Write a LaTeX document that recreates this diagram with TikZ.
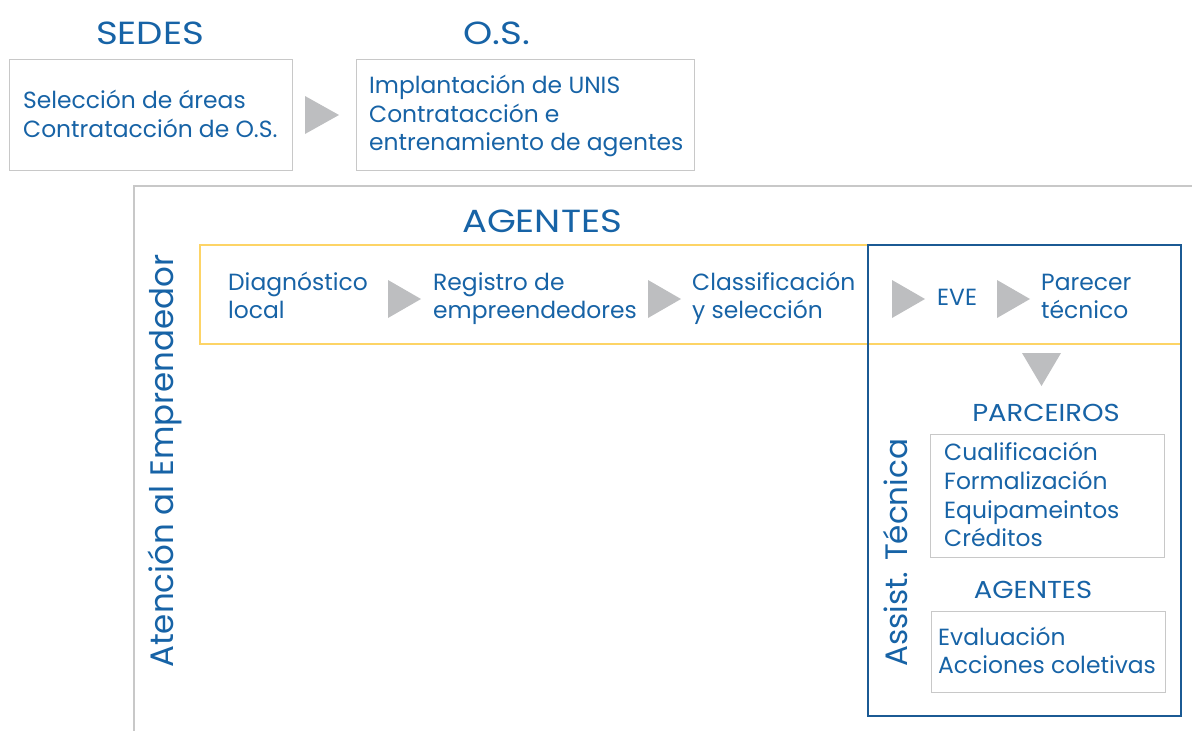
\documentclass[tikz,border=0pt]{standalone}
\usepackage{fontspec}
\setmainfont{Poppins}
\newfontfamily\hfont[FakeStretch=1.16]{Poppins}
\newfontfamily\sfont[FakeStretch=1.12]{Poppins}
\definecolor{tblue}{HTML}{1763A6}
\definecolor{bgray}{HTML}{C8C8C8}
\definecolor{agray}{HTML}{BDBEC0}
\definecolor{ayel}{HTML}{FDD466}
\definecolor{dblue}{HTML}{1B5A94}
\begin{document}
\begin{tikzpicture}[x=1pt,y=-1pt,
  txt/.style={text=tblue, font=\fontsize{23.4}{29}\selectfont, inner sep=0, anchor=base west},
  head/.style={text=tblue, font=\hfont\fontsize{32}{36}\selectfont, inner sep=0, anchor=base},
  sub/.style={text=tblue, font=\sfont\fontsize{24.5}{29}\selectfont, inner sep=0, anchor=base},
  side/.style={text=tblue, inner sep=0, anchor=base west, rotate=90},
  gbox/.style={draw=bgray, line width=1.3pt, anchor=north west, inner sep=0},
  tri/.style={fill=agray}]
\useasboundingbox (0,0) rectangle (1192,731);

% top section
\node[head] (sedes) at (150,44) {SEDES};
\node[head] (os) at (497,44) {O.S.};
\node[gbox, minimum width=283pt, minimum height=111pt] (b1) at (9,59) {};
\node[txt] (b1a) at (23,108) {Selección de áreas};
\node[txt] (b1b) at (23,137) {Contratacción de O.S.};
\node[gbox, minimum width=338pt, minimum height=111pt] (b2) at (356,59) {};
\node[txt] (b2a) at (369,93) {Implantación de UNIS};
\node[txt] (b2b) at (369,122) {Contratacción e};
\node[txt] (b2c) at (369,150) {entrenamiento de agentes};
\fill[tri] (305,96) -- (339,115) -- (305,134) -- cycle;

% frame
\coordinate (fr) at (1192,186);
\coordinate (fc) at (134,186);
\coordinate (fb) at (134,731);
\draw[bgray, line width=1.3pt] (fr) -- (fc) -- (fb);
\node[side, font=\fontsize{32.5}{36}\selectfont] (aten) at (173,668) {Atención al Emprendedor};
\node[head] (agentes) at (542,232) {AGENTES};

% yellow band
\draw[ayel, line width=2.2pt] (868,245) -- (200,245) -- (200,344) -- (1181,344);
\node[txt] (d1) at (228,290) {Diagnóstico};
\node[txt] (d2) at (228,318) {local};
\node[txt] (r1) at (433,290) {Registro de};
\node[txt] (r2) at (433,318) {empreendedores};
\node[txt] (c1) at (692,290) {Classificación};
\node[txt] (c2) at (692,318) {y selección};
\node[txt] (eve) at (937,305) {EVE};
\node[txt] (p1) at (1041,290) {Parecer};
\node[txt] (p2) at (1041,318) {técnico};
\fill[tri] (388,280) -- (421,299) -- (388,318) -- cycle;
\fill[tri] (648,280) -- (681,299) -- (648,318) -- cycle;
\fill[tri] (892,280) -- (925,299) -- (892,318) -- cycle;
\fill[tri] (997,280) -- (1030,299) -- (997,318) -- cycle;

% blue box
\draw[dblue, line width=2.4pt] (868,245) rectangle (1181,716);
\fill[tri] (1022,353) -- (1061,353) -- (1041.5,386) -- cycle;
\node[side, font=\fontsize{31}{34}\selectfont] (assist) at (907,667) {Assist. Técnica};
\node[sub] (parc) at (1046,421) {PARCEIROS};
\node[gbox, minimum width=234pt, minimum height=123pt] (b3) at (930,434) {};
\node[txt] (q1) at (944,460) {Cualificación};
\node[txt] (q2) at (944,489) {Formalización};
\node[txt] (q3) at (944,518) {Equipameintos};
\node[txt] (q4) at (944,546) {Créditos};
\node[sub] (ag2) at (1033,598) {AGENTES};
\node[gbox, minimum width=234pt, minimum height=81pt] (b4) at (931,611) {};
\node[txt] (e1) at (938,645) {Evaluación};
\node[txt] (e2) at (938,673) {Acciones coletivas};
\end{tikzpicture}
\end{document}
